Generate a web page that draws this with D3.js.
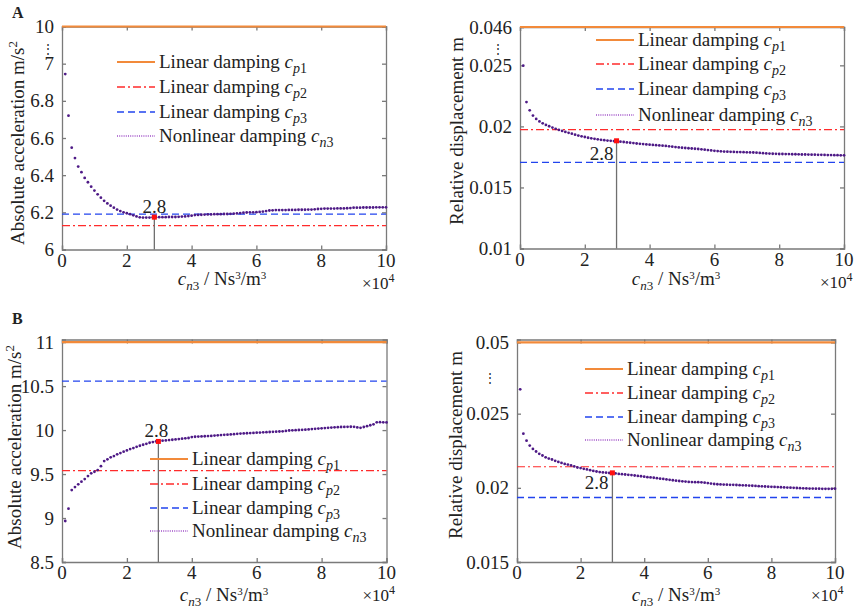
<!DOCTYPE html>
<html><head><meta charset="utf-8">
<script src="https://cdn.jsdelivr.net/npm/d3@7"></script>
<style>
html,body{margin:0;padding:0;background:#fff;}
svg{display:block;}
text{font-family:"Liberation Serif","Times New Roman",serif;fill:#222;}
</style></head>
<body>
<svg id="chart" width="861" height="609"></svg>
<script>
// ---------- DATA ----------
const cn3 = [0.1,0.2,0.3,0.4,0.5,0.6,0.7,0.8,0.9,1.0,1.1,1.2,1.3,1.4,1.5,1.6,1.7,1.8,1.9,2.0,
2.1,2.2,2.3,2.4,2.5,2.6,2.7,2.8,2.9,3.0,3.1,3.2,3.3,3.4,3.5,3.6,3.7,3.8,3.9,4.0,
4.1,4.2,4.3,4.4,4.5,4.6,4.7,4.8,4.9,5.0,5.1,5.2,5.3,5.4,5.5,5.6,5.7,5.8,5.9,6.0,
6.1,6.2,6.3,6.4,6.5,6.6,6.7,6.8,6.9,7.0,7.1,7.2,7.3,7.4,7.5,7.6,7.7,7.8,7.9,8.0,
8.1,8.2,8.3,8.4,8.5,8.6,8.7,8.8,8.9,9.0,9.1,9.2,9.3,9.4,9.5,9.6,9.7,9.8,9.9,10.0];

const accelA = [6.944,6.72,6.548,6.492,6.446,6.416,6.385,6.362,6.338,6.317,6.297,6.279,6.262,6.248,6.236,6.225,6.215,6.207,6.2,6.195,
6.19,6.184,6.178,6.173,6.172,6.172,6.172,6.173,6.174,6.174,6.174,6.174,6.175,6.175,6.175,6.176,6.177,6.178,6.18,6.182,
6.185,6.186,6.187,6.188,6.189,6.189,6.19,6.19,6.19,6.191,6.191,6.192,6.193,6.194,6.196,6.198,6.199,6.2,6.2,6.201,
6.202,6.204,6.207,6.21,6.211,6.212,6.212,6.212,6.212,6.213,6.213,6.213,6.214,6.214,6.214,6.215,6.215,6.216,6.218,6.219,
6.22,6.22,6.22,6.22,6.221,6.221,6.221,6.222,6.223,6.225,6.225,6.225,6.226,6.226,6.226,6.226,6.227,6.227,6.227,6.227];

const dispA = [0.02497,0.02199,0.02132,0.02089,0.02061,0.02041,0.02025,0.02012,0.02001,0.0199,0.0198,0.01971,0.01963,0.01955,0.01947,0.0194,0.01932,0.01925,0.01919,0.01913,
0.01907,0.01902,0.01898,0.01894,0.0189,0.01887,0.01884,0.01882,0.0188,0.01878,0.01875,0.01872,0.01869,0.01866,0.01863,0.0186,0.01857,0.01855,0.01852,0.0185,
0.01848,0.01846,0.01844,0.01842,0.0184,0.01837,0.01834,0.01831,0.01828,0.01825,0.01823,0.01821,0.01819,0.01817,0.01815,0.01812,0.01809,0.01806,0.01803,0.018,
0.01798,0.01796,0.01794,0.01793,0.01792,0.01791,0.0179,0.0179,0.01789,0.01788,0.01787,0.01786,0.01785,0.01783,0.01781,0.01779,0.01777,0.01776,0.01775,0.01774,
0.01774,0.01773,0.01773,0.01772,0.01772,0.01771,0.0177,0.0177,0.01769,0.01768,0.01768,0.01767,0.01767,0.01766,0.01765,0.01765,0.01764,0.01764,0.01763,0.01763];

const accelB = [8.966,9.106,9.318,9.352,9.383,9.413,9.443,9.477,9.508,9.526,9.545,9.59,9.648,9.667,9.69,9.705,9.724,9.739,9.754,9.769,
9.784,9.795,9.81,9.822,9.833,9.844,9.856,9.864,9.871,9.875,9.879,9.882,9.886,9.89,9.894,9.898,9.902,9.906,9.91,9.92,
9.924,9.926,9.928,9.93,9.932,9.934,9.937,9.94,9.943,9.946,9.948,9.951,9.954,9.957,9.96,9.962,9.964,9.966,9.968,9.97,
9.972,9.974,9.976,9.978,9.98,9.982,9.984,9.986,9.99,9.995,9.997,9.999,10.001,10.003,10.005,10.008,10.011,10.014,10.017,10.02,
10.023,10.026,10.029,10.031,10.033,10.035,10.036,10.037,10.038,10.037,10.03,10.026,10.035,10.045,10.055,10.065,10.088,10.09,10.088,10.087];

const dispB = [0.02664,0.02365,0.02318,0.02285,0.02262,0.02245,0.02229,0.02218,0.02206,0.02197,0.02191,0.02182,0.02175,0.02168,0.02161,0.02157,0.02151,0.02144,0.02137,0.02133,
0.02128,0.02124,0.02119,0.02114,0.0211,0.02106,0.02104,0.02102,0.021,0.02099,0.02097,0.02094,0.02092,0.0209,0.02088,0.02086,0.02083,0.0208,0.02078,0.02075,
0.02072,0.0207,0.02068,0.02065,0.02062,0.0206,0.02057,0.02054,0.02051,0.02048,0.02046,0.02044,0.02042,0.0204,0.02039,0.02038,0.02038,0.02037,0.02035,0.02032,
0.02029,0.02026,0.02024,0.02023,0.02022,0.02021,0.0202,0.0202,0.02019,0.02018,0.02017,0.02016,0.02015,0.02014,0.02013,0.02011,0.0201,0.02009,0.02008,0.02007,
0.02006,0.02005,0.02004,0.02003,0.02002,0.02001,0.02,0.01999,0.01998,0.01997,0.01996,0.01995,0.01995,0.01994,0.01994,0.01993,0.01993,0.01993,0.01993,0.01994];

// linear damping levels [cp1, cp2, cp3]
const linearAccelA = [10, 6.128, 6.19];
const linearDispA  = [0.046, 0.01973, 0.01705];
const linearAccelB = [11, 9.538, 10.556];
const linearDispB  = [0.05, 0.02142, 0.01935];

// optimum markers [cn3 (×10^4), value]
const optAccelA = [2.85, 6.174];
const optDispA  = [2.98, 0.01882];
const optAccelB = [2.97, 9.871];
const optDispB  = [3.0, 0.02101];
const optLabel = "2.8";

const xTicks = [0,2,4,6,8,10];
const yTicksAccelA = [6,6.2,6.4,6.6,6.8,7,7.2];
const yLabelsAccelA = ["6","6.2","6.4","6.6","6.8","7","10"];
const yTicksDispA = [0.01,0.015,0.02,0.025,0.02814];
const yLabelsDispA = ["0.01","0.015","0.02","0.025","0.046"];
const yTicksAccelB = [8.5,9,9.5,10,10.5,11];
const yLabelsAccelB = ["8.5","9","9.5","10","10.5","11"];
const yTicksDispB = [0.015,0.02,0.025,0.0298];
const yLabelsDispB = ["0.015","0.02","0.025","0.05"];

const legendNames = ["p1","p2","p3","n3"];

// ---------- STYLE ----------
const C = {orange:"#f28a3a", red:"#ff2b2b", blue:"#2244ee", purple:"#4e1a86", purpleL:"#a050c8", axis:"#7a7a7a", gray:"#6f6f6f"};
const svg = d3.select("#chart");

function panel(cfg){
  const g = svg.append("g");
  const x = d3.scaleLinear().domain([0,10]).range([cfg.x0,cfg.x1]);
  const y = d3.scaleLinear().domain(cfg.yDom).range([cfg.y1,cfg.y0]);
  const topV = cfg.yDom[1];
  const yp = v => v > topV ? y(cfg.breakV) : y(v);

  // axes box with inside ticks (MATLAB style)
  const axL = d3.axisRight(y).tickValues(cfg.yTicks).tickSize(4).tickFormat("");
  const axR = d3.axisLeft(y).tickValues(cfg.yTicks).tickSize(4).tickFormat("");
  const axB = d3.axisTop(x).tickValues(xTicks).tickSize(4).tickFormat("");
  const axT = d3.axisBottom(x).tickValues(xTicks).tickSize(4).tickFormat("");
  [[axL,`translate(${cfg.x0},0)`],[axR,`translate(${cfg.x1},0)`],[axB,`translate(0,${cfg.y1})`],[axT,`translate(0,${cfg.y0})`]].forEach(([a,t])=>{
    const ag = g.append("g").attr("transform",t).call(a);
    ag.selectAll("path,line").attr("stroke",C.axis).attr("stroke-width",1.3);
  });
  // tick labels
  g.selectAll(".yl").data(cfg.yTicks).join("text")
    .attr("x",cfg.x0-8).attr("y",d=>y(d)+6.5).attr("text-anchor","end")
    .attr("font-size",19).text((d,i)=>cfg.yLabels[i]);
  g.selectAll(".xl").data(xTicks).join("text")
    .attr("x",d=>x(d)).attr("y",cfg.y1+17).attr("text-anchor","middle")
    .attr("font-size",19).text(d=>d);
  // break marker
  if(cfg.dotsPos){
    g.append("text").attr("x",cfg.dotsPos[0]).attr("y",cfg.dotsPos[1]).attr("text-anchor","middle")
      .attr("font-size",12).attr("font-family","DejaVu Sans").text("⋮");
  }
  // x label
  const xl = g.append("text").attr("x",cfg.xLab[0]).attr("y",cfg.xLab[1]).attr("text-anchor","middle").attr("font-size",19);
  xl.append("tspan").attr("font-style","italic").text("c");
  xl.append("tspan").attr("font-size",13).attr("dy",5).attr("font-style","italic").text("n");
  xl.append("tspan").attr("font-size",13).text("3");
  xl.append("tspan").attr("dy",-5).text(" / Ns");
  xl.append("tspan").attr("font-size",11).attr("dy",-6).text("3");
  xl.append("tspan").attr("dy",6).text("/m");
  xl.append("tspan").attr("font-size",11).attr("dy",-6).text("3");
  const xe = g.append("text").attr("x",cfg.x1-24).attr("y",cfg.y1+39).attr("text-anchor","start").attr("font-size",17);
  xe.append("tspan").text("×10");
  xe.append("tspan").attr("font-size",12).attr("dy",-7).text("4");
  // y label
  const yl = g.append("text").attr("transform",`translate(${cfg.yLab[0]},${cfg.yLab[1]}) rotate(-90)`)
    .attr("text-anchor","middle").attr("font-size",19);
  yl.append("tspan").text(cfg.yTitle);
  if(cfg.sup){ yl.append("tspan").attr("font-size",13).attr("dy",-7).text(cfg.sup); }

  // linear lines
  const styles = [
    {c:C.orange,w:2.2,d:null},
    {c:C.red,w:1.2,d:"8,3,2,3"},
    {c:C.blue,w:1.3,d:"7,4"}
  ];
  cfg.lin.forEach((v,i)=>{
    g.append("line").attr("x1",cfg.x0).attr("x2",cfg.x1).attr("y1",yp(v)).attr("y2",yp(v))
      .attr("stroke",styles[i].c).attr("stroke-width",styles[i].w).attr("stroke-dasharray",styles[i].d);
  });

  // optimum vertical line
  g.append("line").attr("x1",x(cfg.opt[0])).attr("x2",x(cfg.opt[0])).attr("y1",y(cfg.opt[1])).attr("y2",cfg.y1)
    .attr("stroke",C.gray).attr("stroke-width",1.3);

  // nonlinear dots
  g.selectAll(".dot").data(cfg.series).join("circle")
    .attr("cx",(d,i)=>x(cn3[i])).attr("cy",d=>yp(d)).attr("r",1.4).attr("fill",C.purple);

  // optimum marker
  g.append("rect").attr("x",x(cfg.opt[0])-2.5).attr("y",y(cfg.opt[1])-2.5).attr("width",5).attr("height",5).attr("fill","#ff1010");
  g.append("text").attr("x",x(cfg.opt[0])+cfg.optLab[0]).attr("y",y(cfg.opt[1])+cfg.optLab[1])
    .attr("text-anchor",cfg.optLab[2]).attr("font-size",19).text(optLabel);

  // legend
  const L = cfg.leg;
  legendNames.forEach((nm,i)=>{
    const yy = L.rows[i];
    const ln = g.append("line").attr("x1",L.x).attr("x2",L.x+38).attr("y1",yy).attr("y2",yy);
    if(i<3) ln.attr("stroke",styles[i].c).attr("stroke-width",i===0?2:1.3).attr("stroke-dasharray",styles[i].d);
    else ln.attr("stroke",C.purpleL).attr("stroke-width",1.4).attr("stroke-dasharray","1,1.2");
    const t = g.append("text").attr("x",L.x+42).attr("y",yy+6).attr("font-size",19);
    t.append("tspan").text(i<3?"Linear damping ":"Nonlinear damping ");
    t.append("tspan").attr("font-style","italic").text("c");
    t.append("tspan").attr("font-size",14).attr("dy",5).attr("font-style","italic").text(nm[0]);
    t.append("tspan").attr("font-size",14).text(nm[1]);
  });
}

panel({x0:62,x1:386,y0:26.5,y1:249.5,yDom:[6,7.2],breakV:7.2,yTicks:yTicksAccelA,yLabels:yLabelsAccelA,
  series:accelA,lin:linearAccelA,opt:optAccelA,optLab:[0,-4,"middle"],dotsPos:[48,52.5],
  xLab:[222,285],yLab:[24,143],yTitle:"Absolute acceleration m/s",sup:"2",
  leg:{x:117,rows:[62,87,112,136]}});

panel({x0:520,x1:844,y0:27,y1:248.5,yDom:[0.01,0.02814],breakV:0.02814,yTicks:yTicksDispA,yLabels:yLabelsDispA,
  series:dispA,lin:linearDispA,opt:optDispA,optLab:[-3,19,"end"],dotsPos:[498,53],
  xLab:[676,285],yLab:[463,131],yTitle:"Relative displacement m",sup:null,
  leg:{x:596,rows:[40,64,89,115]}});

panel({x0:62,x1:386.5,y0:339.5,y1:562,yDom:[8.5,11.03],breakV:11,yTicks:yTicksAccelB,yLabels:yLabelsAccelB,
  series:accelB,lin:linearAccelB,opt:optAccelB,optLab:[-2,-4,"middle"],dotsPos:null,
  xLab:[224,601],yLab:[21,447],yTitle:"Absolute acceleration m/s",sup:"2",
  leg:{x:150,rows:[459,484,508,531]}});

panel({x0:517,x1:835,y0:339.5,y1:562,yDom:[0.015,0.03],breakV:0.0298,yTicks:yTicksDispB,yLabels:yLabelsDispB,
  series:dispB,lin:linearDispB,opt:optDispB,optLab:[-4,16,"end"],dotsPos:[490,382],
  xLab:[676,601],yLab:[462,445],yTitle:"Relative displacement m",sup:null,
  leg:{x:585,rows:[369,393,417,440]}});

// panel letters
svg.append("text").attr("x",12).attr("y",18).attr("font-family","Liberation Sans, Arial, sans-serif")
  .attr("font-weight","bold").attr("font-size",16).text("A");
svg.append("text").attr("x",12).attr("y",324).attr("font-family","Liberation Sans, Arial, sans-serif")
  .attr("font-weight","bold").attr("font-size",16).text("B");
</script>
</body></html>
